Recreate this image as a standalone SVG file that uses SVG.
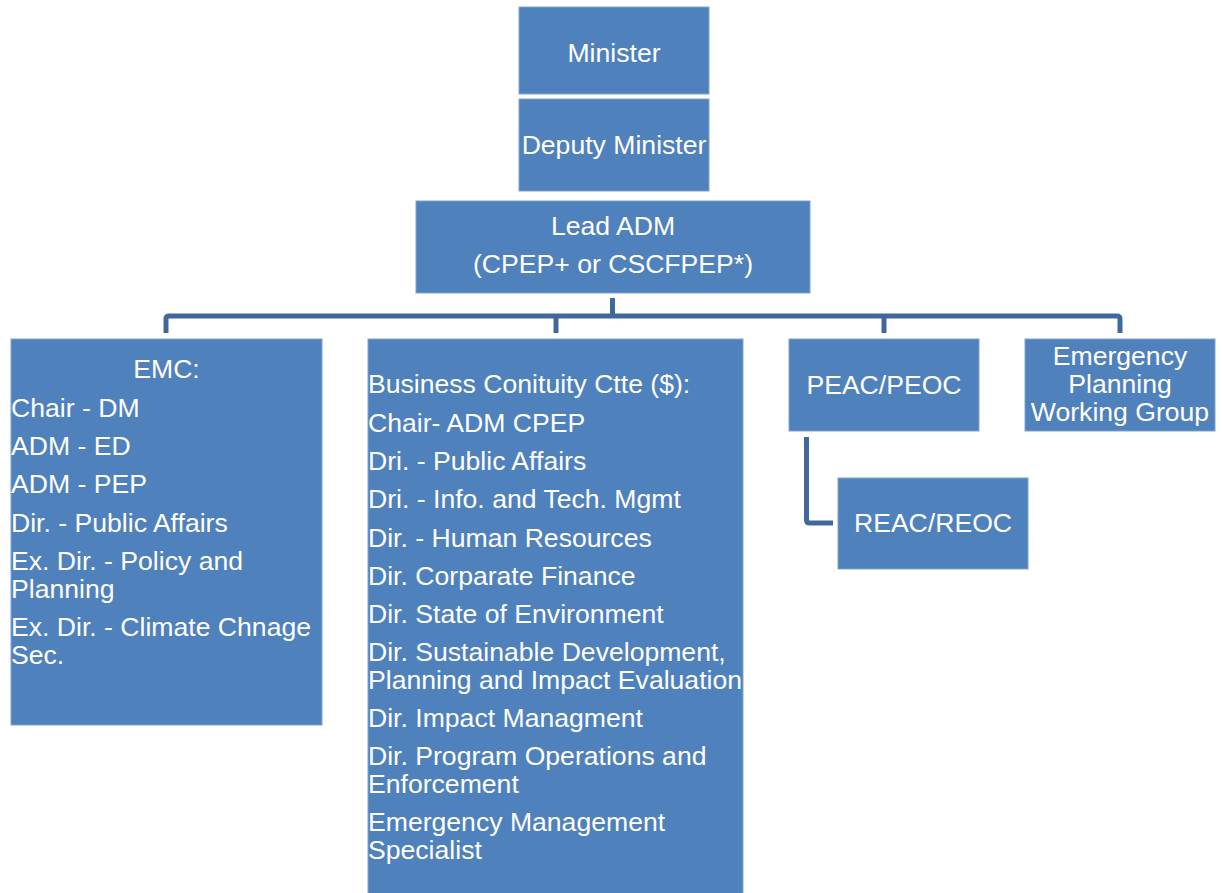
<svg xmlns="http://www.w3.org/2000/svg" width="1222" height="893" viewBox="0 0 1222 893">
  <style>
    .box { fill: #4F81BD; stroke: #7FA3D3; stroke-width: 1; }
    .lbl { font-family: "Liberation Sans", Arial, sans-serif; font-size: 26.6px; fill: #FFFFFF; }
    .mid { text-anchor: middle; }
    .conn { fill: none; stroke: #41689B; stroke-width: 5; stroke-linejoin: round; }
  </style>
  <rect width="1222" height="893" fill="#FFFFFF"/>

  <!-- connectors -->
  <g id="connectors">
    <path class="conn" d="M612.5 298 V316"/>
    <path class="conn" d="M166 333 V319 Q166 316 169 316 H1117 Q1120 316 1120 319 V333"/>
    <path class="conn" d="M556 316 V333"/>
    <path class="conn" d="M884 316 V333"/>
    <path class="conn" d="M806.5 437 V520 Q806.5 523 809.5 523 H833"/>
  </g>

  <g id="minister">
    <rect class="box" x="519" y="7" width="190" height="87"/>
    <text class="lbl mid" x="614" y="62">Minister</text>
  </g>

  <g id="deputy-minister">
    <rect class="box" x="519" y="99" width="190" height="92"/>
    <text class="lbl mid" x="614" y="154">Deputy Minister</text>
  </g>

  <g id="lead-adm">
    <rect class="box" x="416" y="201" width="394" height="92"/>
    <text class="lbl mid" x="613" y="235">Lead ADM</text>
    <text class="lbl mid" x="613" y="273">(CPEP+ or CSCFPEP*)</text>
  </g>

  <g id="emc">
    <rect class="box" x="11" y="339" width="311" height="386"/>
    <text class="lbl mid" x="166.5" y="378">EMC:</text>
    <text class="lbl" x="11" y="416.5">Chair - DM</text>
    <text class="lbl" x="11" y="455">ADM - ED</text>
    <text class="lbl" x="11" y="493">ADM - PEP</text>
    <text class="lbl" x="11" y="531.5">Dir. - Public Affairs</text>
    <text class="lbl" x="11" y="570">Ex. Dir. - Policy and</text>
    <text class="lbl" x="11" y="598">Planning</text>
    <text class="lbl" x="11" y="636">Ex. Dir. - Climate Chnage</text>
    <text class="lbl" x="11" y="664">Sec.</text>
  </g>

  <g id="business-continuity">
    <rect class="box" x="368" y="339" width="375" height="560"/>
    <text class="lbl" x="368" y="393">Business Conituity Ctte ($):</text>
    <text class="lbl" x="368" y="431.5">Chair- ADM CPEP</text>
    <text class="lbl" x="368" y="470">Dri. - Public Affairs</text>
    <text class="lbl" x="368" y="508">Dri. - Info. and Tech. Mgmt</text>
    <text class="lbl" x="368" y="546.5">Dir. - Human Resources</text>
    <text class="lbl" x="368" y="585">Dir. Corparate Finance</text>
    <text class="lbl" x="368" y="623">Dir. State of Environment</text>
    <text class="lbl" x="368" y="661">Dir. Sustainable Development,</text>
    <text class="lbl" x="368" y="689">Planning and Impact Evaluation</text>
    <text class="lbl" x="368" y="727">Dir. Impact Managment</text>
    <text class="lbl" x="368" y="765">Dir. Program Operations and</text>
    <text class="lbl" x="368" y="793">Enforcement</text>
    <text class="lbl" x="368" y="831">Emergency Management</text>
    <text class="lbl" x="368" y="859">Specialist</text>
  </g>

  <g id="peac-peoc">
    <rect class="box" x="789" y="339" width="190" height="92"/>
    <text class="lbl mid" x="884" y="393.5">PEAC/PEOC</text>
  </g>

  <g id="emergency-planning-wg">
    <rect class="box" x="1025" y="339" width="190" height="92"/>
    <text class="lbl mid" x="1120" y="365">Emergency</text>
    <text class="lbl mid" x="1120" y="393">Planning</text>
    <text class="lbl mid" x="1120" y="421">Working Group</text>
  </g>

  <g id="reac-reoc">
    <rect class="box" x="838" y="478" width="190" height="91"/>
    <text class="lbl mid" x="933" y="532">REAC/REOC</text>
  </g>
</svg>
